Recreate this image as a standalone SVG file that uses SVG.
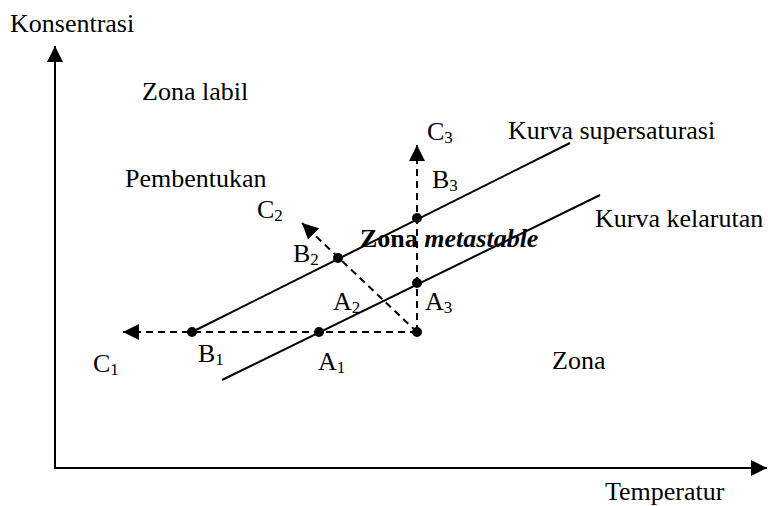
<svg xmlns="http://www.w3.org/2000/svg" width="768" height="506" viewBox="0 0 768 506">
<style>
text{font-family:"Liberation Serif","Times New Roman",serif;font-size:26px;fill:#000}
.sub{font-size:17px}
.ln{stroke:#000;stroke-width:2;fill:none}
.dash{stroke:#000;stroke-width:2;fill:none;stroke-dasharray:7 5}
.dot{fill:#000}
</style>
<defs>
<marker id="ah" markerUnits="userSpaceOnUse" markerWidth="16" markerHeight="16" refX="16" refY="8" orient="auto" viewBox="0 0 16 16">
<path d="M0,0 L16,8 L0,16 z" fill="#000"/>
</marker>
</defs>
<rect width="768" height="506" fill="#fff"/>
<g id="connectors">
<line id="y-axis" class="ln" x1="55" y1="468" x2="55" y2="46" marker-end="url(#ah)"/>
<line id="x-axis" class="ln" x1="54" y1="468" x2="767" y2="468" marker-end="url(#ah)"/>
<line id="kurva-supersaturasi" class="ln" x1="192" y1="332" x2="570" y2="143"/>
<line id="kurva-kelarutan" class="ln" x1="222" y1="380" x2="600" y2="195"/>
<line id="to-c1" class="dash" x1="417" y1="332" x2="123" y2="332" marker-end="url(#ah)"/>
<line id="to-c2" class="dash" x1="417" y1="332" x2="302" y2="223" marker-end="url(#ah)"/>
<line id="to-c3" class="dash" x1="417" y1="332" x2="417" y2="145" marker-end="url(#ah)"/>
</g>
<g id="point-start"><circle class="dot" cx="417" cy="332" r="5"/></g>
<g id="B1"><circle class="dot" cx="192" cy="332" r="5"/><text x="198" y="362">B<tspan class="sub" dy="3">1</tspan></text></g>
<g id="A1"><circle class="dot" cx="319" cy="332" r="5"/><text x="318" y="370">A<tspan class="sub" dy="3">1</tspan></text></g>
<g id="B2"><circle class="dot" cx="338" cy="258" r="5"/><text x="293" y="262">B<tspan class="sub" dy="3">2</tspan></text></g>
<g id="A2"><text x="333" y="310">A<tspan class="sub" dy="3">2</tspan></text></g>
<g id="B3"><circle class="dot" cx="417" cy="218" r="5"/><text x="432" y="188">B<tspan class="sub" dy="3">3</tspan></text></g>
<g id="A3"><circle class="dot" cx="417" cy="283" r="5"/><text x="425" y="310">A<tspan class="sub" dy="3">3</tspan></text></g>
<g id="C1"><text x="93" y="372">C<tspan class="sub" dy="3">1</tspan></text></g>
<g id="C2"><text x="257" y="218">C<tspan class="sub" dy="3">2</tspan></text></g>
<g id="C3"><text x="427" y="140">C<tspan class="sub" dy="3">3</tspan></text></g>
<g id="labels">
<text x="10" y="32">Konsentrasi</text>
<text x="605" y="500">Temperatur</text>
<text x="142" y="100">Zona labil</text>
<text x="125" y="187">Pembentukan</text>
<text x="508" y="139">Kurva supersaturasi</text>
<text x="595" y="227">Kurva kelarutan</text>
<text x="360" y="247" font-weight="bold">Zona <tspan font-style="italic">metastable</tspan></text>
<text x="552" y="369">Zona</text>
</g>
</svg>
